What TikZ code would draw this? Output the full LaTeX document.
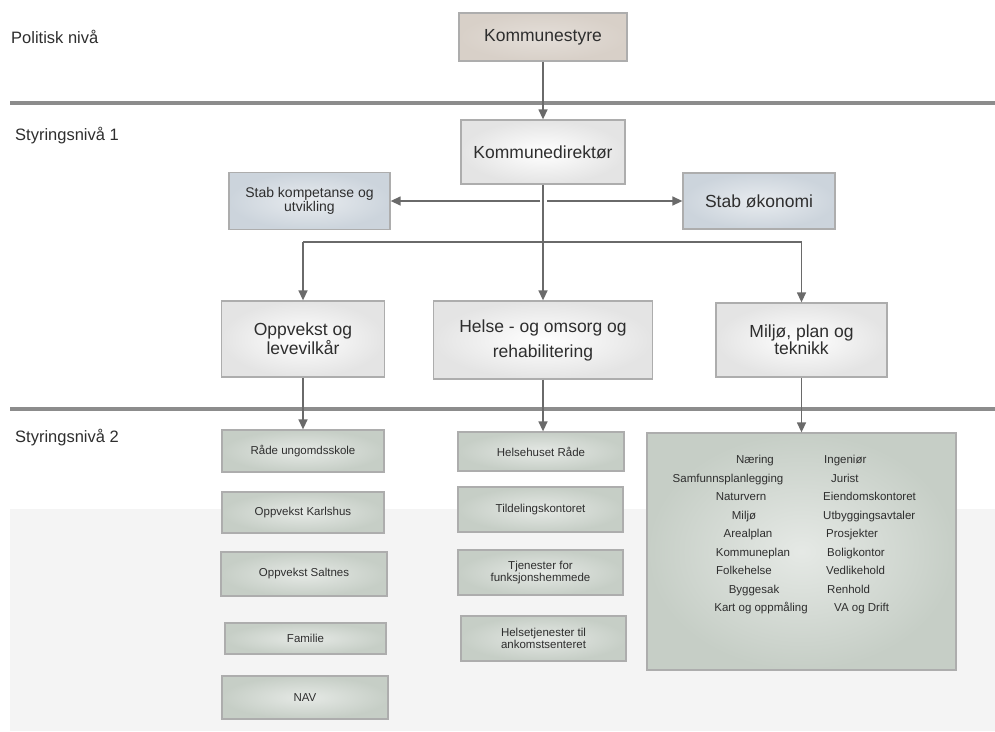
\documentclass[tikz,border=0pt]{standalone}
\usepackage{fontspec}
\setmainfont{Liberation Sans}
\usetikzlibrary{arrows.meta}

\definecolor{nivalinje}{HTML}{8C8C8C}
\definecolor{boxedge}{HTML}{ADADAD}
\definecolor{polfill}{HTML}{D8D0C8}
\definecolor{dirfill}{HTML}{E4E4E4}
\definecolor{stabfill}{HTML}{CCD4DC}
\definecolor{enhfill}{HTML}{C6CEC6}
\definecolor{bandfill}{HTML}{F4F4F4}
\definecolor{pilfarge}{HTML}{6A6A6A}
\definecolor{tekst}{HTML}{2E2E2E}

\tikzset{
  boks/.style={draw=boxedge, line width=1.3pt, inner sep=0pt, align=center, text=tekst},
  polboks/.style={boks, inner color=polfill!70!white, outer color=polfill,
    font=\fontsize{17.5}{18}\selectfont},
  dirboks/.style={boks, inner color=white, outer color=dirfill,
    font=\fontsize{17.5}{16}\selectfont},
  stabboks/.style={boks, inner color=stabfill!45!white, outer color=stabfill},
  enhboks/.style={boks, inner color=enhfill!45!white, outer color=enhfill,
    font=\fontsize{11.5}{12}\selectfont},
  nivaa/.style={anchor=base west, inner sep=0pt, text=tekst,
    font=\fontsize{16.5}{18}\selectfont},
  omraade/.style={text=tekst, inner sep=0pt, font=\fontsize{11.5}{12}\selectfont},
  pil/.style={draw=pilfarge, line width=1.4pt, -{Triangle[length=10pt,width=9pt]}},
  linje/.style={draw=pilfarge, line width=1.4pt}
}

\begin{document}
\begin{tikzpicture}[x=1pt,y=-1pt]
  \useasboundingbox[fill=white] (0,0) rectangle (995,731);
  % bakgrunn og nivaalinjer
  \fill[bandfill] (10,509) rectangle (995,731);
  \draw[nivalinje, line width=3.5pt] (10,103) -- (995,103);
  \draw[nivalinje, line width=3.5pt] (10,409) -- (995,409);

  \node[nivaa] (pol) at (11,43) {Politisk nivå};
  \node[nivaa] (niva1) at (15,140) {Styringsnivå 1};
  \node[nivaa] (niva2) at (15,442) {Styringsnivå 2};

  % politisk niva og styringsniva 1
  \node[polboks, minimum width=168, minimum height=48] (styre) at (543,37) {Kommunestyre};
  \node[dirboks, minimum width=164, minimum height=64] (dir) at (543,152) {Kommunedirektør};
  \node[stabboks, minimum width=161, minimum height=57,
    font=\fontsize{14}{13}\selectfont] (stabkomp) at (309.5,201) {Stab kompetanse og\\utvikling};
  \node[stabboks, minimum width=152, minimum height=56,
    font=\fontsize{17.5}{18}\selectfont] (stabok) at (759,201) {Stab økonomi};

  \node[dirboks, minimum width=163, minimum height=76,
    font=\fontsize{17.5}{15}\selectfont] (oppv) at (303,339) {Oppvekst og\\levevilkår};
  \node[dirboks, minimum width=219, minimum height=78,
    font=\fontsize{17.5}{25}\selectfont] (helse) at (543,340) {Helse - og omsorg og\\rehabilitering};
  \node[dirboks, minimum width=171, minimum height=74,
    font=\fontsize{17.5}{17}\selectfont] (milj) at (801.5,340) {Miljø, plan og\\teknikk};

  \coordinate (kryss) at (543,201);
  \coordinate (grein) at (543,242);
  \draw[pil] (styre) -- (dir);
  \draw[linje] (dir) -- (grein);
  \draw[pil] ([xshift=-3pt]kryss) -- (stabkomp);
  \draw[pil] ([xshift=4pt]kryss) -- (stabok);
  \draw[linje] (oppv |- grein) -- (milj |- grein);
  \draw[pil] (oppv |- grein) -- (oppv);
  \draw[pil] (grein) -- (helse);
  \draw[pil] (milj |- grein) -- (milj);

  % styringsniva 2
  \node[enhboks, minimum width=162, minimum height=42] (rade) at (303,451) {Råde ungomdsskole};
  \node[enhboks, minimum width=162, minimum height=41] (karl) at (303,512.5) {Oppvekst Karlshus};
  \node[enhboks, minimum width=166, minimum height=44] (salt) at (304,574) {Oppvekst Saltnes};
  \node[enhboks, minimum width=161, minimum height=31] (fam) at (305.5,638.5) {Familie};
  \node[enhboks, minimum width=166, minimum height=43] (nav) at (305,697.5) {NAV};

  \node[enhboks, minimum width=166, minimum height=39] (hhus) at (541,451.5) {Helsehuset Råde};
  \node[enhboks, minimum width=165, minimum height=45] (tild) at (540.5,509.5) {Tildelingskontoret};
  \node[enhboks, minimum width=165, minimum height=45] (tjen) at (540.5,572.5) {Tjenester for\\funksjonshemmede};
  \node[enhboks, minimum width=165, minimum height=45] (ankomst) at (543.5,638.5) {Helsetjenester til\\ankomstsenteret};

  \node[enhboks, minimum width=309, minimum height=237] (mpt) at (801.5,551.5) {};
  \foreach \navn/\x [count=\i] in {Næring/755, Samfunnsplanlegging/728, Naturvern/741,
      Miljø/744, Arealplan/748, Kommuneplan/753, Folkehelse/744, Byggesak/754,
      Kart og oppmåling/761}
    \node[omraade, anchor=base] (ml\i) at (\x,{463.5+18.55*(\i-1)}) {\navn};
  \foreach \navn/\x [count=\i] in {Ingeniør/824, Jurist/831, Eiendomskontoret/823,
      Utbyggingsavtaler/823, Prosjekter/826, Boligkontor/827, Vedlikehold/826,
      Renhold/827, VA og Drift/834}
    \node[omraade, anchor=base west] (mr\i) at (\x,{463.5+18.55*(\i-1)}) {\navn};

  \draw[pil] (oppv) -- (oppv |- rade.north);
  \draw[pil] (helse) -- (helse |- hhus.north);
  \draw[pil] (milj) -- (mpt);
\end{tikzpicture}
\end{document}
